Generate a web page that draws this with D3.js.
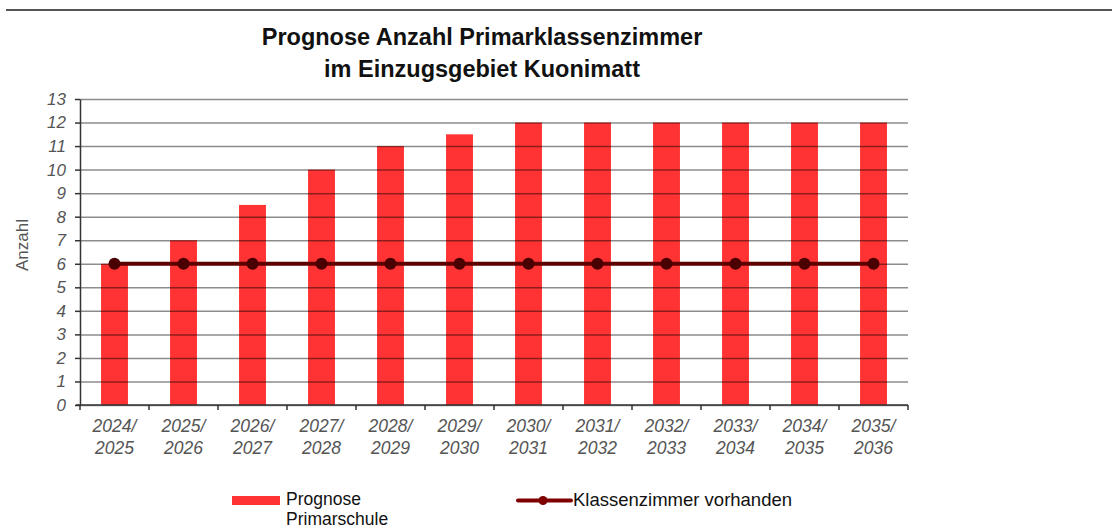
<!DOCTYPE html>
<html>
<head>
<meta charset="utf-8">
<script src="https://cdn.jsdelivr.net/npm/d3@7"></script>
<style>
  body { margin: 0; background: #fff; }
  svg { display: block; font-family: "Liberation Sans", Arial, sans-serif; }
</style>
</head>
<body>
<script>
// Schuljahre (x-Achse)
const years = ["2024/2025", "2025/2026", "2026/2027", "2027/2028", "2028/2029", "2029/2030",
               "2030/2031", "2031/2032", "2032/2033", "2033/2034", "2034/2035", "2035/2036"];
// Prognose Primarschule (Balken)
const prognose = [6, 7, 8.5, 10, 11, 11.5, 12, 12, 12, 12, 12, 12];
// Klassenzimmer vorhanden (Linie)
const vorhanden = [6, 6, 6, 6, 6, 6, 6, 6, 6, 6, 6, 6];
const yTicks = d3.range(0, 14);

const width = 1112, height = 529;
const margin = {top: 99, right: 204, bottom: 124, left: 80};

const svg = d3.select("body").append("svg")
    .attr("width", width).attr("height", height);

// Linie oben
svg.append("line")
    .attr("x1", 6).attr("x2", width).attr("y1", 10).attr("y2", 10)
    .attr("stroke", "#555").attr("stroke-width", 2);

const x = d3.scaleBand()
    .domain(years)
    .range([margin.left, width - margin.right])
    .paddingInner(0.61).paddingOuter(0.305);

const xBoundary = d3.scaleBand().domain(years).range([margin.left, width - margin.right]);

const y = d3.scaleLinear()
    .domain([0, 13])
    .range([height - margin.bottom, margin.top]);

// Balken
svg.append("g")
  .selectAll("rect")
  .data(prognose)
  .join("rect")
    .attr("x", (d, i) => x(years[i]))
    .attr("y", d => y(d))
    .attr("width", x.bandwidth())
    .attr("height", d => y(0) - y(d))
    .attr("fill", "#ff3333");

// Gitterlinien (über den Balken, halbtransparent)
svg.append("g")
    .attr("transform", `translate(${margin.left},0)`)
    .call(d3.axisLeft(y).tickValues(yTicks).tickSize(-(width - margin.left - margin.right)).tickFormat(""))
    .call(g => g.select(".domain").remove())
    .call(g => g.selectAll(".tick line").attr("stroke", "#000").attr("stroke-opacity", 0.45).attr("stroke-width", 1.5));

// y-Achse
svg.append("g")
    .attr("transform", `translate(${margin.left},0)`)
    .call(d3.axisLeft(y).tickValues(yTicks).tickSize(5).tickPadding(9).tickSizeOuter(0))
    .call(g => g.select(".domain").attr("stroke", "#333").attr("stroke-width", 1.5))
    .call(g => g.selectAll(".tick line").attr("stroke", "#333").attr("stroke-width", 1.5))
    .call(g => g.selectAll(".tick text")
        .attr("fill", "#555").attr("font-size", 17).attr("font-style", "italic")
        .attr("font-family", "Liberation Sans, Arial, sans-serif"));

// x-Achse
const xAxisG = svg.append("g")
    .attr("transform", `translate(0,${y(0)})`);
xAxisG.append("line")
    .attr("x1", margin.left - 4).attr("x2", width - margin.right)
    .attr("stroke", "#333").attr("stroke-width", 1.5);
xAxisG.selectAll(".xt")
  .data(years.concat(["end"]))
  .join("line")
    .attr("class", "xt")
    .attr("x1", (d, i) => i < years.length ? xBoundary(d) : width - margin.right)
    .attr("x2", (d, i) => i < years.length ? xBoundary(d) : width - margin.right)
    .attr("y1", 0).attr("y2", 5)
    .attr("stroke", "#333").attr("stroke-width", 1.5);
xAxisG.selectAll(".xl")
  .data(years)
  .join("text")
    .attr("class", "xl")
    .attr("y", 27)
    .attr("text-anchor", "middle")
    .attr("fill", "#555").attr("font-size", 17.5).attr("font-style", "italic")
    .each(function(d) {
      const parts = d.split("/");
      const cx = xBoundary(d) + xBoundary.bandwidth() / 2;
      d3.select(this).append("tspan").attr("x", cx).text(parts[0] + "/");
      d3.select(this).append("tspan").attr("x", cx).attr("dy", 22).text(parts[1]);
    });

// Linie Klassenzimmer vorhanden
const line = d3.line()
    .x((d, i) => x(years[i]) + x.bandwidth() / 2)
    .y(d => y(d));
svg.append("path")
    .datum(vorhanden)
    .attr("fill", "none")
    .attr("stroke", "#5c0000")
    .attr("stroke-width", 4)
    .attr("d", line);
svg.append("g")
  .selectAll("circle")
  .data(vorhanden)
  .join("circle")
    .attr("cx", (d, i) => x(years[i]) + x.bandwidth() / 2)
    .attr("cy", d => y(d))
    .attr("r", 6)
    .attr("fill", "#4a0000");

// Titel
const title = svg.append("text")
    .attr("x", 482).attr("y", 45)
    .attr("text-anchor", "middle")
    .attr("font-size", 23.5).attr("font-weight", "bold").attr("fill", "#111");
title.append("tspan").attr("x", 482).text("Prognose Anzahl Primarklassenzimmer");
title.append("tspan").attr("x", 482).attr("dy", 32).text("im Einzugsgebiet Kuonimatt");

// y-Achsentitel
svg.append("text")
    .attr("transform", `translate(28,245) rotate(-90)`)
    .attr("text-anchor", "middle")
    .attr("font-size", 17).attr("fill", "#555")
    .text("Anzahl");

// Legende
const legend = svg.append("g");
legend.append("rect")
    .attr("x", 232).attr("y", 496).attr("width", 48).attr("height", 9)
    .attr("fill", "#ff3333");
legend.append("text")
    .attr("x", 286).attr("y", 505)
    .attr("font-size", 17.5).attr("fill", "#111")
    .call(t => t.append("tspan").attr("x", 286).text("Prognose"))
    .call(t => t.append("tspan").attr("x", 286).attr("dy", 19.5).text("Primarschule"));

legend.append("line")
    .attr("x1", 518).attr("x2", 571).attr("y1", 500.5).attr("y2", 500.5)
    .attr("stroke", "#800000").attr("stroke-width", 4).attr("stroke-linecap", "round");
legend.append("circle")
    .attr("cx", 543).attr("cy", 500.5).attr("r", 4.5).attr("fill", "#800000");
legend.append("text")
    .attr("x", 573).attr("y", 506)
    .attr("font-size", 18.5).attr("fill", "#111")
    .text("Klassenzimmer vorhanden");
</script>
</body>
</html>
